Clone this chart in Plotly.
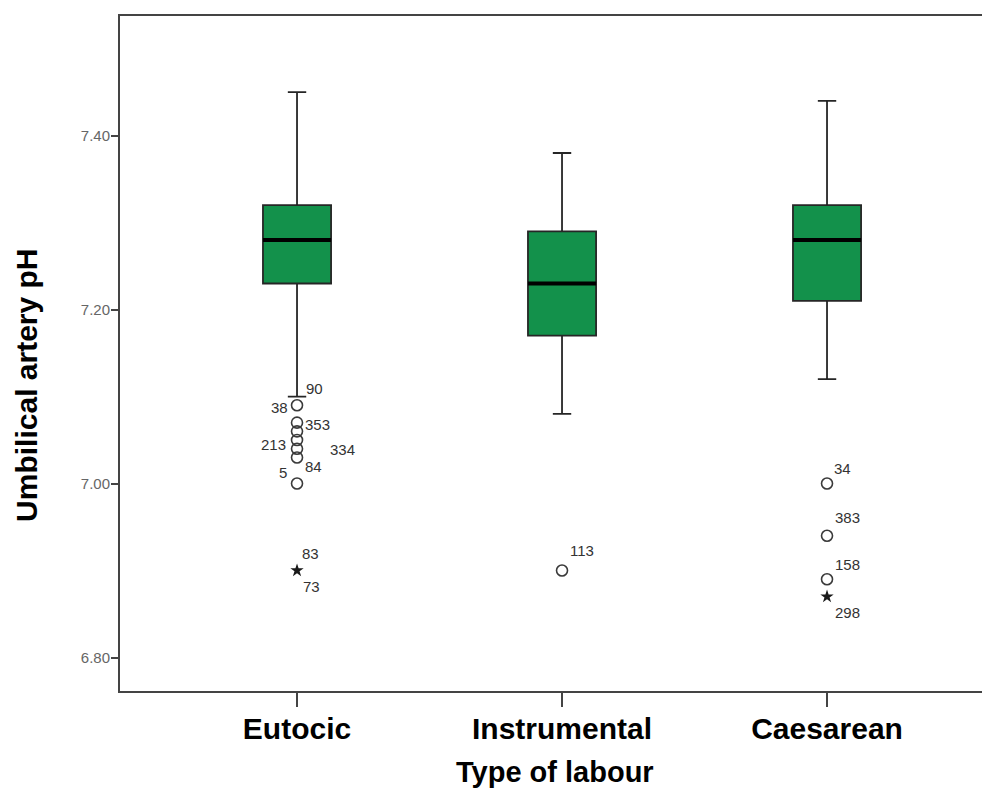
import plotly.graph_objects as go

# ---- data ----
categories = ["Eutocic", "Instrumental", "Caesarean"]
upper_whisker = [7.45, 7.38, 7.44]
q3_values = [7.32, 7.29, 7.32]
medians = [7.28, 7.23, 7.28]
q1_values = [7.23, 7.17, 7.21]
lower_whisker = [7.10, 7.08, 7.12]

# mild outliers (circles)
circle_cat = ["Eutocic"] * 7 + ["Instrumental"] + ["Caesarean"] * 3
circle_val = [7.09, 7.07, 7.06, 7.05, 7.04, 7.03, 7.00, 6.90, 7.00, 6.94, 6.89]
# extreme outliers (stars)
star_cat = ["Eutocic", "Caesarean"]
star_val = [6.90, 6.87]

# case labels
label_text = ["90", "38", "353", "213", "334", "84", "5", "83", "73", "113", "34", "383", "158", "298"]
label_cat = ["Eutocic"] * 9 + ["Instrumental"] + ["Caesarean"] * 4
label_val = [7.09, 7.09, 7.07, 7.05, 7.04, 7.03, 7.00, 6.90, 6.90, 6.90, 7.00, 6.94, 6.89, 6.87]

y_ticks = [6.80, 7.00, 7.20, 7.40]

# ---- style ----
FONT = "Liberation Sans, Arial"
BOX_WIDTH = 0.257
GREEN = "rgb(19,145,75)"
# pixel offsets of the case labels relative to their points (dx right, dy up)
label_dx = [17, -18, 20, -24, 45, 16, -14, 13, 14, 20, 15, 20, 20, 20]
label_dy = [17, -2, -2, -4, -1, -9, 11, 17, -16, 20, 15, 18, 15, -16]

fig = go.Figure()

fig.add_trace(go.Box(
    x=categories,
    q1=q1_values, median=medians, q3=q3_values,
    lowerfence=lower_whisker, upperfence=upper_whisker,
    width=BOX_WIDTH,
    whiskerwidth=0.27,
    fillcolor=GREEN,
    line=dict(color="#262626", width=1.8),
    boxpoints=False,
    showlegend=False,
    hoverinfo="skip",
))

# thick median bars
for i, m in enumerate(medians):
    fig.add_shape(type="line", xref="x", yref="y",
                  x0=i - BOX_WIDTH / 2, x1=i + BOX_WIDTH / 2, y0=m, y1=m,
                  line=dict(color="black", width=4))

fig.add_trace(go.Scatter(
    x=circle_cat, y=circle_val, mode="markers",
    marker=dict(symbol="circle-open", size=11, color="#3a3a3a", line=dict(width=1.6)),
    showlegend=False, hoverinfo="skip",
))
fig.add_trace(go.Scatter(
    x=star_cat, y=star_val, mode="markers",
    marker=dict(symbol="star", size=10, color="#1a1a1a"),
    showlegend=False, hoverinfo="skip",
))

for t, c, v, dx, dy in zip(label_text, label_cat, label_val, label_dx, label_dy):
    fig.add_annotation(x=c, y=v, xref="x", yref="y", text=t, showarrow=False,
                       xshift=dx, yshift=dy,
                       font=dict(family=FONT, size=15, color="#333333"))

fig.add_annotation(text="<b>Umbilical artery pH</b>", xref="paper", yref="paper",
                   x=0, y=0.452, xshift=-93, textangle=-90, showarrow=False,
                   xanchor="center", yanchor="middle",
                   font=dict(family=FONT, size=30, color="black"))
fig.add_annotation(text="<b>Type of labour</b>", xref="paper", yref="paper",
                   x=0.5, y=-0.1496, yshift=2, showarrow=False, xanchor="center", yanchor="bottom",
                   font=dict(family=FONT, size=29, color="black"))

# page body has an 8px margin, so the figure is drawn 8px smaller and offset
fig.update_layout(
    width=982, height=784,
    margin=dict(l=112, r=0, t=8, b=101),
    paper_bgcolor="white", plot_bgcolor="white",
    font=dict(family=FONT),
    xaxis=dict(
        type="category", categoryorder="array", categoryarray=categories,
        range=[-0.668, 2.615], showgrid=False, zeroline=False,
        showline=True, linecolor="#444444", linewidth=2, mirror=True,
        ticks="outside", ticklen=14, tickwidth=1.5, tickcolor="#444444",
        ticklabelstandoff=-4,
        tickfont=dict(family=FONT, size=30, color="black", weight="bold"),
    ),
    yaxis=dict(
        range=[6.7615, 7.5375], showgrid=False, zeroline=False,
        showline=True, linecolor="#444444", linewidth=2, mirror=False,
        tickvals=y_ticks, tickformat=".2f",
        ticks="outside", ticklen=7, tickwidth=1.5, tickcolor="#444444",
        ticklabelstandoff=-2,
        tickfont=dict(family=FONT, size=15, color="#666666"),
    ),
)

fig.write_html("out.html")
